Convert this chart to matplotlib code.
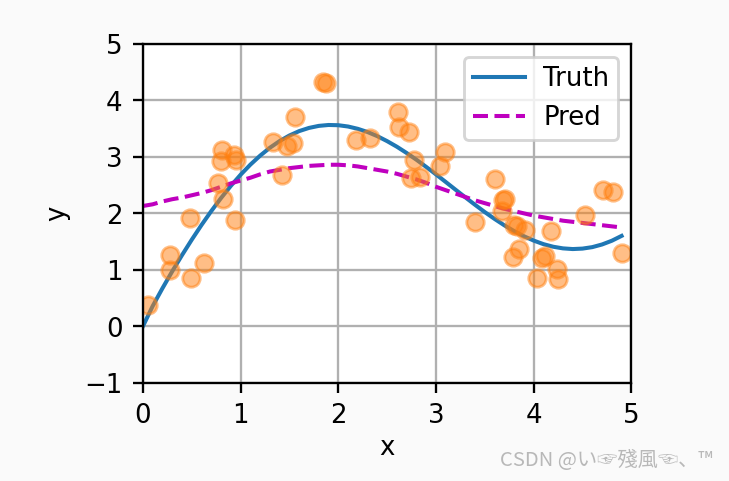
import matplotlib
matplotlib.use("Agg")
import matplotlib.pyplot as plt

# curves, every 0.1 on x
x_line = [0.0, 0.1, 0.2, 0.3, 0.4, 0.5, 0.6, 0.7, 0.8, 0.9,
          1.0, 1.1, 1.2, 1.3, 1.4, 1.5, 1.6, 1.7, 1.8, 1.9,
          2.0, 2.1, 2.2, 2.3, 2.4, 2.5, 2.6, 2.7, 2.8, 2.9,
          3.0, 3.1, 3.2, 3.3, 3.4, 3.5, 3.6, 3.7, 3.8, 3.9,
          4.0, 4.1, 4.2, 4.3, 4.4, 4.5, 4.6, 4.7, 4.8, 4.9]
y_truth = [0.000, 0.358, 0.673, 0.973, 1.259, 1.533, 1.794, 2.040, 2.271, 2.486,
           2.683, 2.862, 3.021, 3.161, 3.280, 3.378, 3.456, 3.512, 3.548, 3.564,
           3.560, 3.537, 3.496, 3.439, 3.366, 3.278, 3.179, 3.068, 2.949, 2.822,
           2.690, 2.555, 2.419, 2.284, 2.151, 2.022, 1.901, 1.788, 1.686, 1.595,
           1.518, 1.455, 1.409, 1.380, 1.368, 1.376, 1.402, 1.449, 1.515, 1.601]
y_pred = [2.13, 2.16, 2.21, 2.25, 2.28, 2.32, 2.36, 2.41, 2.47, 2.53,
          2.58, 2.63, 2.69, 2.74, 2.77, 2.80, 2.82, 2.84, 2.85, 2.86,
          2.86, 2.85, 2.83, 2.80, 2.77, 2.74, 2.70, 2.65, 2.60, 2.54,
          2.47, 2.41, 2.35, 2.29, 2.23, 2.18, 2.13, 2.08, 2.04, 2.00,
          1.96, 1.93, 1.90, 1.87, 1.85, 1.83, 1.81, 1.79, 1.77, 1.75]

# training samples
x_train = [0.05, 0.28, 0.28, 0.48, 0.49, 0.63, 0.77, 0.80, 0.81, 0.82, 0.93, 0.95,
           0.94, 1.33, 1.42, 1.48, 1.54, 1.56, 1.84, 1.87, 2.18, 2.32,
           2.61, 2.62, 2.72, 2.77, 2.74, 2.84, 3.09, 3.04, 3.40, 3.60, 3.69, 3.71,
           3.68, 3.80, 3.83, 3.91, 3.85, 3.79, 4.09, 4.12, 4.18, 4.24, 4.25, 4.03,
           4.53, 4.71, 4.81, 4.90]
y_train = [0.37, 1.27, 0.99, 1.91, 0.85, 1.13, 2.54, 2.92, 3.13, 2.26, 3.04, 2.95,
           1.89, 3.27, 2.67, 3.20, 3.25, 3.71, 4.33, 4.31, 3.30, 3.34,
           3.80, 3.53, 3.44, 2.94, 2.63, 2.64, 3.08, 2.83, 1.84, 2.61, 2.24, 2.26,
           2.05, 1.79, 1.77, 1.71, 1.37, 1.23, 1.21, 1.25, 1.68, 1.01, 0.84, 0.86,
           1.97, 2.41, 2.37, 1.30]

plt.rcParams['font.size'] = 9
fig = plt.figure(figsize=(3.5, 2.31), dpi=208.3)
fig.patch.set_facecolor('#fafafa')
ax = fig.add_axes([0.196, 0.204, 0.67, 0.7045])

ax.plot(x_line, y_truth, color='#1f77b4', linestyle='-', linewidth=1.4, label='Truth')
ax.plot(x_line, y_pred, color='m', linestyle='--', linewidth=1.4, label='Pred')
ax.plot(x_train, y_train, 'o', color='#ff7f0e', alpha=0.5, markersize=6)

ax.set_xlim(0, 5)
ax.set_ylim(-1, 5)
ax.set_yticks([-1, 0, 1, 2, 3, 4, 5])
ax.set_xlabel('x', labelpad=2)
ax.set_ylabel('y', labelpad=5)
ax.grid(True)
ax.legend(loc='upper right', fontsize=9, borderpad=0.35, handletextpad=0.7)

fig.text(0.978, 0.042, 'CSDN @い☞殘風☜、™', ha='right', va='center',
         fontsize=7, color='#b8b8b8',
         family=['Noto Sans CJK JP', 'DejaVu Sans'])

fig.savefig('out.png', dpi=208.3)
